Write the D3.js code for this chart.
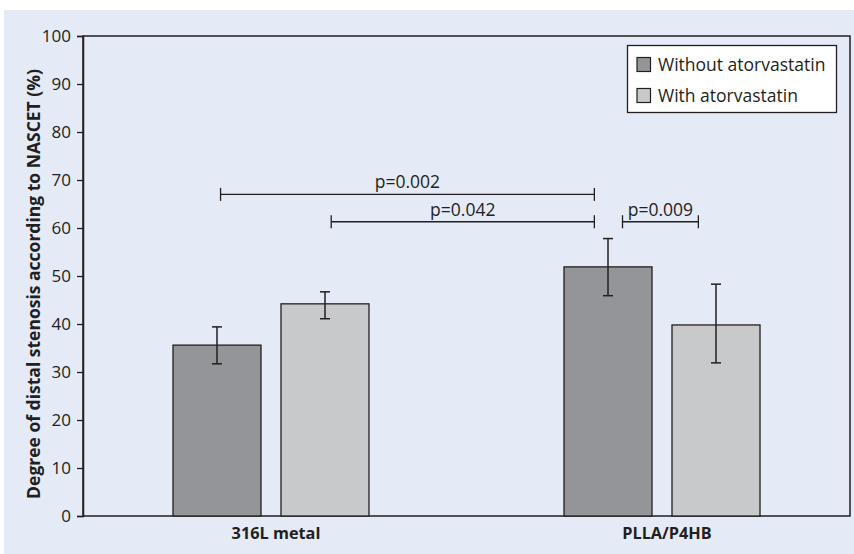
<!DOCTYPE html>
<html><head><meta charset="utf-8">
<script src="https://cdn.jsdelivr.net/npm/d3@7"></script>
<style>body{margin:0;background:#fff}svg{display:block}</style>
</head><body><svg id="c" width="854" height="554"></svg>
<script>
// ---- data ----
const categories = ["316L metal", "PLLA/P4HB"];
const seriesNames = ["Without atorvastatin", "With atorvastatin"];
const withoutValues = [35.6, 51.9];
const withValues = [44.2, 39.8];
const withoutLow = [31.7, 45.9];
const withoutHigh = [39.4, 57.8];
const withLow = [41.1, 31.9];
const withHigh = [46.7, 48.3];
const yTicks = [0, 10, 20, 30, 40, 50, 60, 70, 80, 90, 100];
const yTitle = "Degree of distal stenosis according to NASCET (%)";
// significance brackets (x in category-index units, y in %)
const bracketLabels = ["p=0.002", "p=0.042", "p=0.009"];
const bracketFrom = [-0.129, 0.154, 0.899];
const bracketTo = [0.827, 0.827, 1.093];
const bracketY = [67.0, 61.3, 61.3];

// ---- styles ----
const FONT = "'Open Sans', sans-serif";
const INK = "#231f20";
const BG = "#e4eaf6";
const colors = ["#939598", "#c8c9cb"];

const svg = d3.select("#c");
const W = 854, H = 554;
const m = {left: 83, right: 850, top: 36, bottom: 516};

svg.append("rect").attr("x", 4).attr("y", 10).attr("width", W - 4).attr("height", H - 10).attr("fill", BG);

const y = d3.scaleLinear().domain([0, 100]).range([m.bottom, m.top]);
const x = d3.scalePoint().domain(categories).range([m.left, m.right]).padding(0.4808);
const xi = d3.scaleLinear().domain([0, 1]).range([x(categories[0]), x(categories[1])]);
const inner = d3.scaleBand().domain(seriesNames).range([-98, 98]).paddingInner(0.1852).paddingOuter(0);

// frame
svg.append("rect").attr("x", m.left).attr("y", m.top).attr("width", m.right - m.left).attr("height", m.bottom - m.top)
  .attr("fill", "none").attr("stroke", INK).attr("stroke-width", 1.5);

// y axis
const yAxis = svg.append("g").attr("transform", `translate(${m.left},0)`)
  .call(d3.axisLeft(y).tickValues(yTicks).tickSize(6).tickPadding(6));
yAxis.select(".domain").attr("stroke", INK).attr("stroke-width", 1.5);
yAxis.selectAll(".tick line").attr("stroke", INK).attr("stroke-width", 1.3);
yAxis.selectAll(".tick text").attr("font-family", FONT).attr("font-size", 17).attr("fill", INK);

// x axis labels
const xAxis = svg.append("g").attr("transform", `translate(4.5,${m.bottom})`)
  .call(d3.axisBottom(x).tickSize(0).tickPadding(0));
xAxis.select(".domain").remove();
xAxis.selectAll(".tick text").attr("font-family", FONT).attr("font-size", 16.3).attr("font-weight", "bold")
  .attr("fill", INK).attr("dy", "1.43em");

// y title
svg.append("text").attr("transform", `translate(40,284) rotate(-90)`).attr("text-anchor", "middle")
  .attr("font-family", FONT).attr("font-size", 17.5).attr("font-weight", "bold").attr("fill", INK).text(yTitle);

// bars
const seriesVals = [withoutValues, withValues];
const seriesLow = [withoutLow, withLow];
const seriesHigh = [withoutHigh, withHigh];
const barData = [];
seriesNames.forEach((s, si) => categories.forEach((c, ci) => barData.push({
  s, si, c, v: seriesVals[si][ci], lo: seriesLow[si][ci], hi: seriesHigh[si][ci]
})));
const bx = d => x(d.c) + inner(d.s);
svg.append("g").selectAll("rect").data(barData).join("rect")
  .attr("x", bx).attr("y", d => y(d.v)).attr("width", inner.bandwidth()).attr("height", d => y(0) - y(d.v))
  .attr("fill", d => colors[d.si]).attr("stroke", INK).attr("stroke-width", 1.3);

// error bars
const eg = svg.append("g").attr("stroke", INK).attr("stroke-width", 1.5);
barData.forEach(d => {
  const cx = bx(d) + inner.bandwidth() / 2;
  eg.append("line").attr("x1", cx).attr("x2", cx).attr("y1", y(d.lo)).attr("y2", y(d.hi));
  eg.append("line").attr("x1", cx - 5).attr("x2", cx + 5).attr("y1", y(d.lo)).attr("y2", y(d.lo));
  eg.append("line").attr("x1", cx - 5).attr("x2", cx + 5).attr("y1", y(d.hi)).attr("y2", y(d.hi));
});

// brackets
bracketLabels.forEach((lab, i) => {
  const x1 = xi(bracketFrom[i]), x2 = xi(bracketTo[i]), yy = y(bracketY[i]);
  const g = svg.append("g").attr("stroke", INK).attr("stroke-width", 1.3);
  g.append("line").attr("x1", x1).attr("x2", x2).attr("y1", yy).attr("y2", yy);
  g.append("line").attr("x1", x1).attr("x2", x1).attr("y1", yy - 6.5).attr("y2", yy + 6.5);
  g.append("line").attr("x1", x2).attr("x2", x2).attr("y1", yy - 6.5).attr("y2", yy + 6.5);
  svg.append("text").attr("x", (x1 + x2) / 2).attr("y", yy - 6).attr("text-anchor", "middle")
    .attr("font-family", FONT).attr("font-size", 17.5).attr("fill", INK).text(lab);
});

// legend
const lg = svg.append("g");
lg.append("rect").attr("x", 627.5).attr("y", 45.5).attr("width", 209).attr("height", 67)
  .attr("fill", "#fff").attr("stroke", INK).attr("stroke-width", 1.3);
seriesNames.forEach((s, i) => {
  const yy = 57.5 + i * 31;
  lg.append("rect").attr("x", 637).attr("y", yy).attr("width", 13.5).attr("height", 14)
    .attr("fill", colors[i]).attr("stroke", INK).attr("stroke-width", 1.2);
  lg.append("text").attr("x", 658).attr("y", yy + 13).attr("font-family", FONT).attr("font-size", 17.5)
    .attr("fill", INK).text(s);
});
</script></body></html>
